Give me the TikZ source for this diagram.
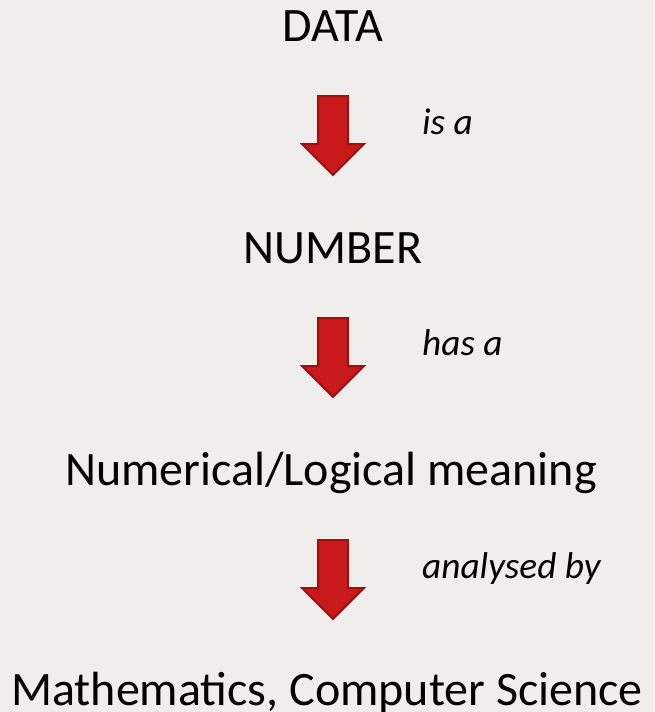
\documentclass[tikz,border=0pt]{standalone}
\usepackage{fontspec}
\setmainfont{Carlito}
\definecolor{bg}{HTML}{F0EDED}
\definecolor{arrfill}{HTML}{C8191B}
\definecolor{arredge}{HTML}{9A1013}
\begin{document}
\begin{tikzpicture}[x=1pt,y=-1pt,
  mainlbl/.style={anchor=base,font=\fontsize{48}{56}\selectfont,inner sep=0pt},
  edgelbl/.style={anchor=base west,font=\fontsize{37.3}{42}\selectfont\itshape,inner sep=0pt},
  redarrow/.style={fill=arrfill,draw=arredge,line width=2pt,line join=miter},
  pics/downarrow/.style={code={
    \draw[redarrow] (-15,0) -- (15,0) -- (15,48) -- (31,48) -- (0,79) -- (-31,48) -- (-15,48) -- cycle;
  }}]
\fill[bg] (0,0) rectangle (654,712);
\useasboundingbox (0,0) rectangle (654,712);
\node[mainlbl] (data) at (333,41) {DATA};
\node[mainlbl] (number) at (333,263) {NUMBER};
\node[mainlbl] (meaning) at (331,485) {Numerical/Logical meaning};
\node[mainlbl] (maths) at (327,705) {Mathematics, Computer Science};
\coordinate (a1) at (333,96);
\coordinate (a2) at (333,318);
\coordinate (a3) at (333,540);
\pic at (a1) {downarrow};
\pic at (a2) {downarrow};
\pic at (a3) {downarrow};
\node[edgelbl] (l1) at (422,134) {is a};
\node[edgelbl] (l2) at (422,355) {has a};
\node[edgelbl] (l3) at (422,578) {analysed by};
\end{tikzpicture}
\end{document}
